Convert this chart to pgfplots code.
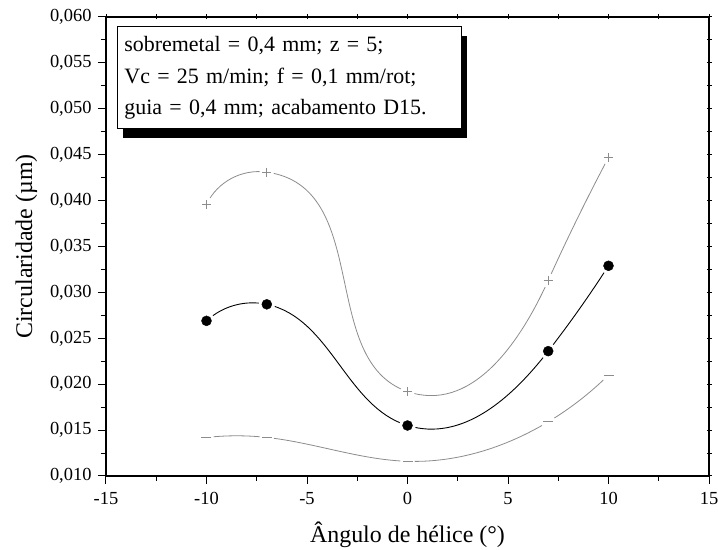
\documentclass[border=0pt]{standalone}
\usepackage{fontspec}
\setmainfont{Liberation Serif}
\usepackage{pgfplots}
\pgfplotsset{compat=1.18}
\usetikzlibrary{shadows,hobby}
\definecolor{curvegray}{RGB}{140,140,140}

\pgfplotstableread{
x y
-10 0.0269
-7  0.0287
0   0.0155
7   0.0236
10  0.0329
}\tabmean
\pgfplotstableread{
x y
-10 0.0396
-7  0.0431
0   0.0192
7   0.0313
10  0.0447
}\tabupper
\pgfplotstableread{
x y
-10 0.0142
-7  0.0142
0   0.0116
7   0.0159
10  0.0210
}\tablower

\pgfplotsset{
  base/.style={
    scale only axis, width=603bp, height=459bp,
    xmin=-15, xmax=15, ymin=0.010, ymax=0.060,
    xtick={-15,-10,-5,0,5,10,15},
    ytick={0.010,0.015,0.020,0.025,0.030,0.035,0.040,0.045,0.050,0.055,0.060},
    minor x tick num=1, minor y tick num=1,
    scaled y ticks=false,
    axis line style={line width=1.6bp},
    tick style={line width=1bp, black},
  }
}

\begin{document}
\begin{tikzpicture}
\begin{axis}[base,
    tick pos=left, tick align=outside,
    major tick length=8bp, minor tick length=5bp,
    xticklabels={-15,-10,-5,0,5,10,15},
    tick label style={font=\fontsize{18.5}{18.5}\selectfont},
    xticklabel style={yshift=-5bp},
    yticklabel style={xshift=-3bp, /pgf/number format/.cd, fixed, fixed zerofill, precision=3, use comma, assume math mode=true},
    xlabel={Ângulo de hélice (°)},
    ylabel={Circularidade (µm)},
    label style={font=\fontsize{24}{24}\selectfont},
    xlabel style={yshift=-10bp},
    ylabel style={yshift=6bp},
    clip=false,
]
  \addplot[curvegray, line width=0.8bp, hobby] table {\tabupper};
  \addplot[curvegray, line width=0.8bp, hobby] table {\tablower};
  \addplot[black, line width=0.9bp, hobby] table {\tabmean};
  % white halos: gaps of the line round each symbol
  \addplot[only marks, mark=*, mark size=7bp, mark options={draw=white, fill=white}] table {\tabupper};
  \addplot[only marks, mark=*, mark size=7bp, mark options={draw=white, fill=white}] table {\tablower};
  \addplot[only marks, mark=*, mark size=8bp, mark options={draw=white, fill=white}] table {\tabmean};
  \addplot[only marks, mark=+, mark size=4.5bp, mark options={curvegray, line width=0.8bp}] table {\tabupper};
  \addplot[only marks, mark=-, mark size=5bp, mark options={curvegray, line width=0.9bp}] table {\tablower};
  \addplot[only marks, mark=*, mark size=5bp, mark options={black}] table {\tabmean};

  \node[draw=black, line width=1.2bp, fill=white, anchor=north west, align=left,
        text width=330bp, minimum height=102bp, inner xsep=7bp, inner ysep=5bp,
        font=\fontsize{22}{32}\selectfont,
        drop shadow={shadow xshift=6bp, shadow yshift=-9bp, fill=black, opacity=1}]
    at (rel axis cs:0.018,0.980)
    {sobremetal = 0,4 mm; z = 5;\\ Vc = 25 m/min; f = 0,1 mm/rot;\\ guia = 0,4 mm; acabamento D15.};
\end{axis}
\begin{axis}[base,
    tick pos=right, tick align=center,
    major tick length=5bp, minor tick length=5bp,
    xticklabels={}, yticklabels={},
]
\end{axis}
\pgfresetboundingbox
\path ([xshift=-106bp,yshift=-74bp]current axis.south west) rectangle ([xshift=9bp,yshift=17bp]current axis.north east);
\end{tikzpicture}
\end{document}
